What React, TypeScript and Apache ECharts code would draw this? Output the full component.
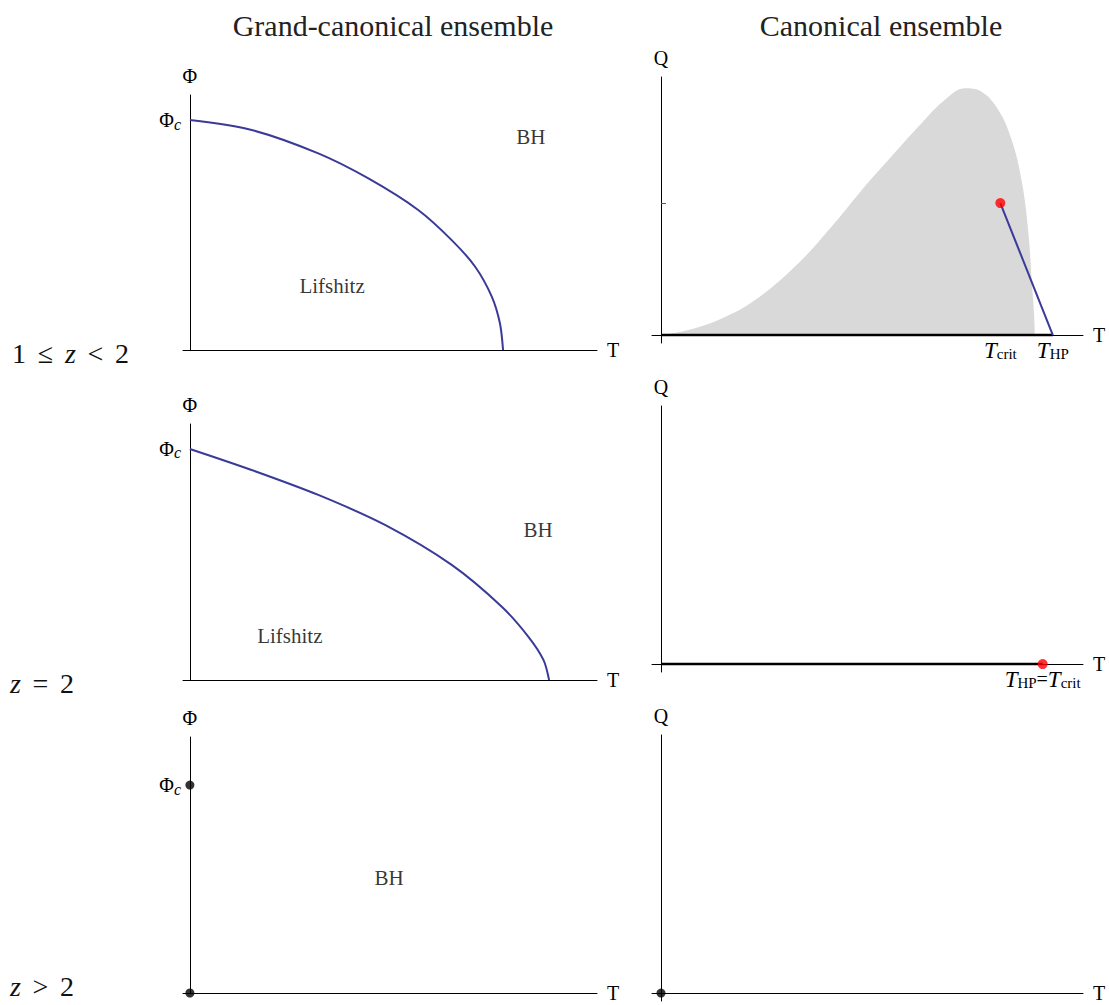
import React, { useEffect, useRef } from 'react';
import * as echarts from 'echarts';

const FONT = "'Liberation Serif', 'Times New Roman', serif";
const BLUE = '#3a3a98';
const GRAY = '#d9d9d9';
const RED = '#ff0000';

// Column / row texts
const COLUMN_TITLES = ['Grand-canonical ensemble', 'Canonical ensemble'];

// Grand-canonical, 1 <= z < 2 : critical line Phi(T)
const TL_T = [0, 0.197, 0.41, 0.57, 0.729, 0.836, 0.911, 0.964, 0.99, 1.0];
const TL_PHI = [1.0, 0.957, 0.855, 0.746, 0.609, 0.478, 0.362, 0.232, 0.116, 0];

// Grand-canonical, z = 2 : critical line Phi(T)
const ML_T = [0, 0.197, 0.41, 0.623, 0.836, 0.996, 1.081, 1.129, 1.147];
const ML_PHI = [1, 0.909, 0.801, 0.671, 0.498, 0.317, 0.187, 0.087, 0];

// Canonical, 1 <= z < 2 : shaded region Q(T)
const REGION_T = [0, 0.07, 0.155, 0.24, 0.35, 0.435, 0.512, 0.58, 0.665, 0.724, 0.776, 0.818, 0.861, 0.895, 0.92, 0.937, 0.946, 0.952, 0.954];
const REGION_Q = [0, 0.038, 0.126, 0.265, 0.543, 0.82, 1.098, 1.326, 1.604, 1.78, 1.869, 1.843, 1.705, 1.477, 1.174, 0.795, 0.417, 0.164, 0];

// Canonical special points
const T_CRIT_TOP = 0.866;
const Q_CRIT_TOP = 1.0;
const T_HP_TOP = 1.0;
const T_HP_MID = 0.974;

// Label positions (data coordinates)
const TL_LABELS = [{ name: 'BH', value: [1.089, 0.926] }, { name: 'Lifshitz', value: [0.454, 0.278] }];
const ML_LABELS = [{ name: 'BH', value: [1.112, 0.649] }, { name: 'Lifshitz', value: [0.319, 0.19] }];
const BL_LABELS = [{ name: 'BH', value: [0.636, 0.553] }];

const L_XMIN = -0.022;
const L_XMAX = 1.3;
const R_XMIN = -0.023;
const R_XMAX = 1.077;
const R_YMIN = -0.06;
const R_YMAX = 1.955;

const zip = (a: number[], b: number[]) => a.map((v, i) => [v, b[i]]);

const axisLineStyle = { color: '#000', width: 1 };
const nameStyle = { fontFamily: FONT, fontSize: 20, color: '#000' };

const richSub = {
  t: { fontFamily: FONT, fontSize: 23, fontStyle: 'italic', color: '#000', lineHeight: 22, verticalAlign: 'middle' },
  s: { fontFamily: FONT, fontSize: 15, color: '#000', lineHeight: 22, verticalAlign: 'bottom' },
  e: { fontFamily: FONT, fontSize: 20, color: '#000', lineHeight: 22, verticalAlign: 'middle' },
};

const richPhi = {
  p: { fontFamily: FONT, fontSize: 20, color: '#000', lineHeight: 24, verticalAlign: 'middle' },
  c: { fontFamily: FONT, fontSize: 16, fontStyle: 'italic', color: '#000', lineHeight: 24, verticalAlign: 'bottom' },
};

function leftX(gi: number) {
  return {
    type: 'value', gridIndex: gi, min: L_XMIN, max: L_XMAX,
    name: 'T', nameLocation: 'end', nameGap: 10, nameTextStyle: nameStyle,
    axisLine: { show: true, onZero: true, lineStyle: axisLineStyle },
    axisTick: { show: false }, axisLabel: { show: false }, splitLine: { show: false },
  };
}

function leftY(gi: number, ymax: number) {
  return {
    type: 'value', gridIndex: gi, min: 0, max: ymax,
    name: 'Φ', nameLocation: 'end', nameGap: 9, nameTextStyle: nameStyle,
    axisLine: { show: true, onZero: true, lineStyle: axisLineStyle },
    axisTick: { show: false },
    axisLabel: { show: true, customValues: [1], margin: 2, formatter: () => '{p|Φ}{c|c}', rich: richPhi },
    splitLine: { show: false },
  };
}

function rightX(gi: number, extra: any) {
  return {
    type: 'value', gridIndex: gi, min: R_XMIN, max: R_XMAX,
    name: 'T', nameLocation: 'end', nameGap: 10, nameTextStyle: nameStyle,
    axisLine: { show: true, onZero: true, lineStyle: axisLineStyle },
    axisTick: { show: false }, axisLabel: { show: false }, splitLine: { show: false },
    ...extra,
  };
}

function rightY(gi: number, extra: any) {
  return {
    type: 'value', gridIndex: gi, min: R_YMIN, max: R_YMAX,
    name: 'Q', nameLocation: 'end', nameGap: 9, nameTextStyle: nameStyle,
    axisLine: { show: true, onZero: true, lineStyle: axisLineStyle },
    axisTick: { show: false }, axisLabel: { show: false }, splitLine: { show: false },
    ...extra,
  };
}

function textScatter(gi: number, data: any[]) {
  return {
    type: 'scatter', xAxisIndex: gi, yAxisIndex: gi, symbolSize: 1,
    itemStyle: { color: 'rgba(0,0,0,0)' }, data, silent: true,
    label: { show: true, position: 'inside', formatter: '{b}', fontFamily: FONT, fontSize: 21, color: '#000' },
  };
}

const mathRich = {
  n: { fontFamily: FONT, fontSize: 28, fill: '#111' },
  z: { fontFamily: FONT, fontSize: 28, fontStyle: 'italic', fill: '#111' },
  r: { fontFamily: FONT, fontSize: 28, fill: '#111', width: 39, align: 'center' },
};

const option: any = {
  animation: false,
  backgroundColor: '#fff',
  grid: [
    { left: 183, top: 95, width: 414, height: 255, outerBoundsMode: 'none' },
    { left: 183, top: 424, width: 414, height: 256, outerBoundsMode: 'none' },
    { left: 183, top: 737, width: 414, height: 256, outerBoundsMode: 'none' },
    { left: 652, top: 77, width: 431, height: 266, outerBoundsMode: 'none' },
    { left: 652, top: 406, width: 431, height: 266, outerBoundsMode: 'none' },
    { left: 652, top: 735, width: 431, height: 266, outerBoundsMode: 'none' },
  ],
  xAxis: [
    leftX(0), leftX(1), leftX(2),
    rightX(3, {
      axisTick: { show: true, inside: true, length: 5, customValues: [T_CRIT_TOP], lineStyle: { color: '#555' } },
      axisLabel: {
        show: true, customValues: [T_CRIT_TOP, T_HP_TOP], margin: -4, rich: richSub,
        formatter: (v: number) => (v < 0.95 ? '{t|T}{s|crit}' : '{t|T}{s|HP}'),
      },
    }),
    rightX(4, {
      axisLabel: {
        show: true, customValues: [T_HP_MID], margin: -4, rich: richSub,
        formatter: () => '{t|T}{s|HP}{e|=}{t|T}{s|crit}',
      },
    }),
    rightX(5, {}),
  ],
  yAxis: [
    leftY(0, 1.109), leftY(1, 1.108), leftY(2, 1.231),
    rightY(3, { axisTick: { show: true, inside: true, length: 5, customValues: [Q_CRIT_TOP], lineStyle: { color: '#555' } } }),
    rightY(4, {}),
    rightY(5, {}),
  ],
  series: [
    // Top-left
    { type: 'line', xAxisIndex: 0, yAxisIndex: 0, data: zip(TL_T, TL_PHI), smooth: 0.3, showSymbol: false, lineStyle: { color: BLUE, width: 2 } },
    textScatter(0, TL_LABELS),
    // Middle-left
    { type: 'line', xAxisIndex: 1, yAxisIndex: 1, data: zip(ML_T, ML_PHI), smooth: 0.3, showSymbol: false, lineStyle: { color: BLUE, width: 2 } },
    textScatter(1, ML_LABELS),
    // Bottom-left
    { type: 'scatter', xAxisIndex: 2, yAxisIndex: 2, data: [[0, 1], [0, 0]], symbolSize: 9, itemStyle: { color: '#000' }, z: 5 },
    textScatter(2, BL_LABELS),
    // Top-right
    { type: 'line', xAxisIndex: 3, yAxisIndex: 3, data: zip(REGION_T, REGION_Q), smooth: 0.4, showSymbol: false, lineStyle: { width: 0, color: GRAY }, areaStyle: { color: GRAY, opacity: 1 }, z: 1 },
    { type: 'line', xAxisIndex: 3, yAxisIndex: 3, data: [[0, 0], [T_HP_TOP, 0]], showSymbol: false, lineStyle: { color: '#000', width: 2.5 }, z: 3 },
    { type: 'line', xAxisIndex: 3, yAxisIndex: 3, data: [[T_CRIT_TOP, Q_CRIT_TOP], [T_HP_TOP, 0]], showSymbol: false, lineStyle: { color: BLUE, width: 2 }, z: 4 },
    { type: 'scatter', xAxisIndex: 3, yAxisIndex: 3, data: [[T_CRIT_TOP, Q_CRIT_TOP]], symbolSize: 10, itemStyle: { color: RED }, z: 5 },
    // Middle-right
    { type: 'line', xAxisIndex: 4, yAxisIndex: 4, data: [[0, 0], [T_HP_MID, 0]], showSymbol: false, lineStyle: { color: '#000', width: 2.5 }, z: 3 },
    { type: 'scatter', xAxisIndex: 4, yAxisIndex: 4, data: [[T_HP_MID, 0]], symbolSize: 10, itemStyle: { color: RED }, z: 5 },
    // Bottom-right
    { type: 'scatter', xAxisIndex: 5, yAxisIndex: 5, data: [[0, 0]], symbolSize: 9, itemStyle: { color: '#000' }, z: 5 },
  ],
  graphic: [
    { type: 'text', x: 393, y: 25, style: { text: COLUMN_TITLES[0], font: `30px ${FONT}`, fill: '#222', align: 'center', verticalAlign: 'middle' } },
    { type: 'text', x: 881, y: 25, style: { text: COLUMN_TITLES[1], font: `30px ${FONT}`, fill: '#222', align: 'center', verticalAlign: 'middle' } },
    { type: 'text', x: 12, y: 353, style: { text: '{n|1}{r|≤}{z|z}{r|<}{n|2}', align: 'left', verticalAlign: 'middle', rich: mathRich } },
    { type: 'text', x: 10, y: 683, style: { text: '{z|z}{r|=}{n|2}', align: 'left', verticalAlign: 'middle', rich: mathRich } },
    { type: 'text', x: 10, y: 986, style: { text: '{z|z}{r|>}{n|2}', align: 'left', verticalAlign: 'middle', rich: mathRich } },
  ],
};

export default function App() {
  const ref = useRef<HTMLDivElement>(null);
  useEffect(() => {
    if (!ref.current) return;
    const chart = echarts.init(ref.current, null, { renderer: 'svg', width: 1109, height: 1005 });
    chart.setOption(option);
    return () => chart.dispose();
  }, []);
  return <div ref={ref} style={{ position: 'absolute', left: 0, top: 0, width: 1109, height: 1005 }} />;
}
